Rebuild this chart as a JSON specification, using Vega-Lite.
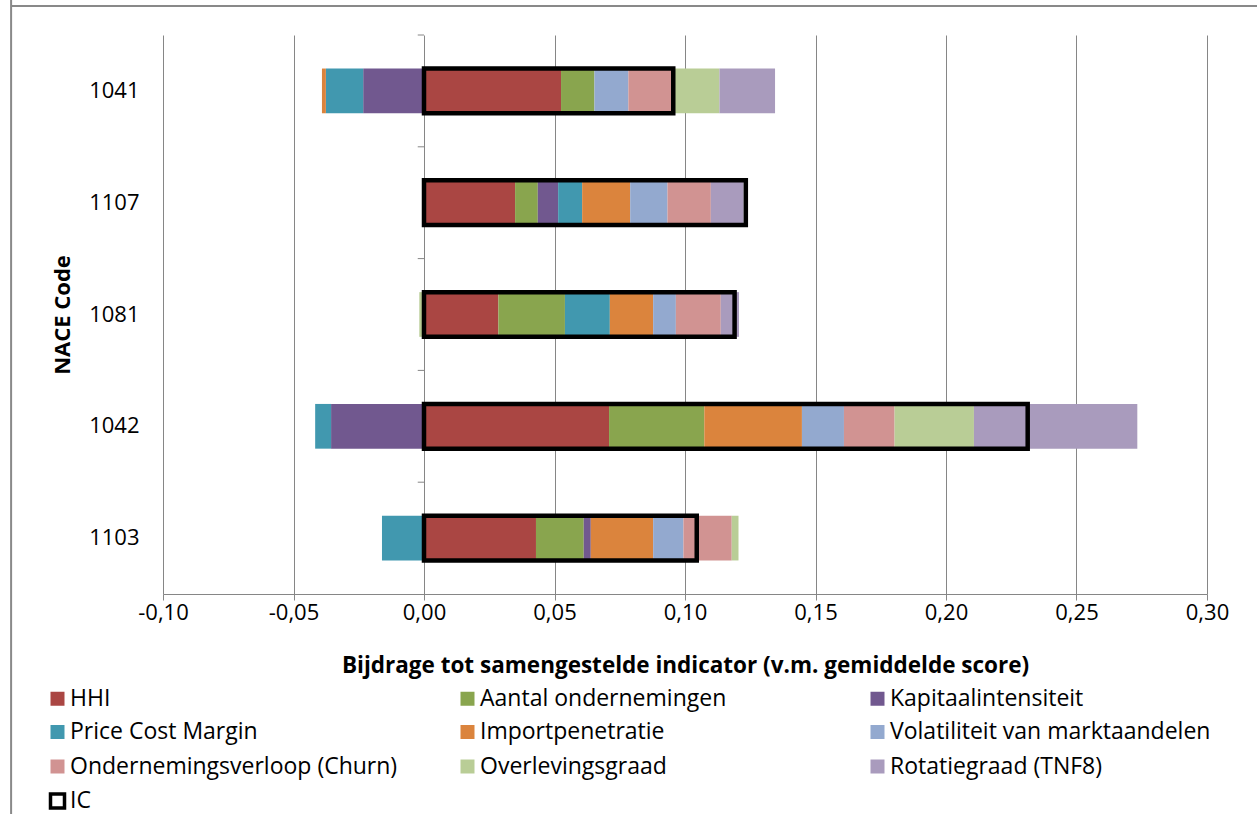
{
  "$schema": "https://vega.github.io/schema/vega-lite/v6.json",
  "width": 1044,
  "height": 559,
  "autosize": {"type": "none"},
  "padding": {"left": 163, "top": 35, "right": 50, "bottom": 220},
  "background": "white",
  "config": {
    "font": "Open Sans",
    "view": {"stroke": null},
    "locale": {"number": {"decimal": ",", "thousands": ".", "grouping": [3], "currency": ["", " €"], "minus": "-"}},
    "axis": {"labelColor": "black", "titleColor": "black", "gridColor": "#868686", "domainColor": "#868686", "tickColor": "#868686"}
  },
  "datasets": {
    "contrib": [
      {"code": "1041", "n": 1, "ind": "HHI", "value": 0.0525},
      {"code": "1041", "n": 2, "ind": "Aantal ondernemingen", "value": 0.0128},
      {"code": "1041", "n": 3, "ind": "Kapitaalintensiteit", "value": -0.0233},
      {"code": "1041", "n": 4, "ind": "Price Cost Margin", "value": -0.0143},
      {"code": "1041", "n": 5, "ind": "Importpenetratie", "value": -0.0015},
      {"code": "1041", "n": 6, "ind": "Volatiliteit van marktaandelen", "value": 0.013},
      {"code": "1041", "n": 7, "ind": "Ondernemingsverloop (Churn)", "value": 0.0164},
      {"code": "1041", "n": 8, "ind": "Overlevingsgraad", "value": 0.0185},
      {"code": "1041", "n": 9, "ind": "Rotatiegraad (TNF8)", "value": 0.0213},
      {"code": "1107", "n": 1, "ind": "HHI", "value": 0.0349},
      {"code": "1107", "n": 2, "ind": "Aantal ondernemingen", "value": 0.0087},
      {"code": "1107", "n": 3, "ind": "Kapitaalintensiteit", "value": 0.0078},
      {"code": "1107", "n": 4, "ind": "Price Cost Margin", "value": 0.0092},
      {"code": "1107", "n": 5, "ind": "Importpenetratie", "value": 0.0184},
      {"code": "1107", "n": 6, "ind": "Volatiliteit van marktaandelen", "value": 0.0143},
      {"code": "1107", "n": 7, "ind": "Ondernemingsverloop (Churn)", "value": 0.0166},
      {"code": "1107", "n": 9, "ind": "Rotatiegraad (TNF8)", "value": 0.0125},
      {"code": "1081", "n": 1, "ind": "HHI", "value": 0.0285},
      {"code": "1081", "n": 2, "ind": "Aantal ondernemingen", "value": 0.0255},
      {"code": "1081", "n": 4, "ind": "Price Cost Margin", "value": 0.0172},
      {"code": "1081", "n": 5, "ind": "Importpenetratie", "value": 0.0166},
      {"code": "1081", "n": 6, "ind": "Volatiliteit van marktaandelen", "value": 0.0087},
      {"code": "1081", "n": 7, "ind": "Ondernemingsverloop (Churn)", "value": 0.0172},
      {"code": "1081", "n": 8, "ind": "Overlevingsgraad", "value": -0.0018},
      {"code": "1081", "n": 9, "ind": "Rotatiegraad (TNF8)", "value": 0.007},
      {"code": "1042", "n": 1, "ind": "HHI", "value": 0.0709},
      {"code": "1042", "n": 2, "ind": "Aantal ondernemingen", "value": 0.0365},
      {"code": "1042", "n": 3, "ind": "Kapitaalintensiteit", "value": -0.0356},
      {"code": "1042", "n": 4, "ind": "Price Cost Margin", "value": -0.0061},
      {"code": "1042", "n": 5, "ind": "Importpenetratie", "value": 0.0374},
      {"code": "1042", "n": 6, "ind": "Volatiliteit van marktaandelen", "value": 0.0161},
      {"code": "1042", "n": 7, "ind": "Ondernemingsverloop (Churn)", "value": 0.0194},
      {"code": "1042", "n": 8, "ind": "Overlevingsgraad", "value": 0.0304},
      {"code": "1042", "n": 9, "ind": "Rotatiegraad (TNF8)", "value": 0.0626},
      {"code": "1103", "n": 1, "ind": "HHI", "value": 0.0429},
      {"code": "1103", "n": 2, "ind": "Aantal ondernemingen", "value": 0.0183},
      {"code": "1103", "n": 3, "ind": "Kapitaalintensiteit", "value": 0.0027},
      {"code": "1103", "n": 4, "ind": "Price Cost Margin", "value": -0.0161},
      {"code": "1103", "n": 5, "ind": "Importpenetratie", "value": 0.0239},
      {"code": "1103", "n": 6, "ind": "Volatiliteit van marktaandelen", "value": 0.0116},
      {"code": "1103", "n": 7, "ind": "Ondernemingsverloop (Churn)", "value": 0.0185},
      {"code": "1103", "n": 8, "ind": "Overlevingsgraad", "value": 0.0026}
    ],
    "ic": [
      {"code": "1041", "IC": 0.0955},
      {"code": "1107", "IC": 0.1233},
      {"code": "1081", "IC": 0.119},
      {"code": "1042", "IC": 0.2313},
      {"code": "1103", "IC": 0.1045}
    ]
  },
  "layer": [
    {
      "data": {"name": "contrib"},
      "mark": {"type": "bar"},
      "encoding": {
        "y": {
          "field": "code", "type": "nominal",
          "sort": ["1041", "1107", "1081", "1042", "1103"],
          "scale": {"paddingInner": 0.6, "paddingOuter": 0.3},
          "axis": {"title": "NACE Code", "titleFontSize": 22, "titleFontWeight": "bold", "titlePadding": 14, "labelFontSize": 22, "labelPadding": 24, "domain": false, "ticks": false}
        },
        "x": {
          "field": "value", "type": "quantitative", "stack": "zero",
          "scale": {"domain": [-0.1, 0.3], "nice": false, "zero": false},
          "axis": {
            "title": "Bijdrage tot samengestelde indicator (v.m. gemiddelde score)",
            "titleFontSize": 22.5, "titleFontWeight": "bold", "titlePadding": 31,
            "labelFontSize": 22, "labelPadding": 2, "tickSize": 6,
            "values": [-0.1, -0.05, 0, 0.05, 0.1, 0.15, 0.2, 0.25, 0.3],
            "format": ".2f",
            "grid": true, "labelFlush": false
          }
        },
        "order": {"field": "n", "type": "quantitative", "sort": "ascending"},
        "color": {
          "field": "ind", "type": "nominal",
          "scale": {
            "domain": ["HHI", "Aantal ondernemingen", "Kapitaalintensiteit", "Price Cost Margin", "Importpenetratie", "Volatiliteit van marktaandelen", "Ondernemingsverloop (Churn)", "Overlevingsgraad", "Rotatiegraad (TNF8)", "IC"],
            "range": ["#AA4643", "#89A54E", "#71588F", "#4198AF", "#DB843D", "#93A9CF", "#D19392", "#B9CD96", "#A99BBD", "white"]
          },
          "legend": {
            "title": null, "orient": "none", "legendX": -117, "legendY": 651,
            "direction": "horizontal",
            "columns": 3, "gridAlign": "all", "columnPadding": 58, "rowPadding": 5.5,
            "symbolType": "square", "symbolSize": 196, "labelFontSize": 23, "labelColor": "black",
            "labelOffset": 1, "labelLimit": 500, "padding": 0,
            "encode": {"symbols": {"update": {"stroke": {"signal": "datum.value === 'IC' ? 'black' : 'transparent'"}, "strokeWidth": {"signal": "datum.value === 'IC' ? 3.5 : 0"}}}}
          }
        }
      }
    },
    {
      "data": {"name": "ic"},
      "mark": {"type": "bar", "fill": "transparent", "stroke": "black", "strokeWidth": 4.5},
      "encoding": {
        "y": {"field": "code", "type": "nominal", "sort": ["1041", "1107", "1081", "1042", "1103"]},
        "x": {"field": "IC", "type": "quantitative", "stack": null}
      }
    },
    {
      "data": {"name": "ic"},
      "mark": {"type": "rule", "color": "#868686", "strokeWidth": 1},
      "encoding": {
        "y": {"field": "code", "type": "nominal", "bandPosition": -0.75, "sort": ["1041", "1107", "1081", "1042", "1103"]},
        "x": {"datum": -0.0024, "type": "quantitative"},
        "x2": {"datum": 0}
      }
    },
    {
      "data": {"values": [{}]},
      "mark": {"type": "rule", "color": "#898989", "strokeWidth": 2, "clip": false},
      "encoding": {
        "y": {"datum": "1041", "type": "nominal", "bandPosition": -1.3985, "sort": ["1041", "1107", "1081", "1042", "1103"]},
        "x": {"datum": -0.1582, "type": "quantitative"},
        "x2": {"datum": 0.4}
      }
    },
    {
      "data": {"values": [{}]},
      "mark": {"type": "tick", "orient": "vertical", "size": 1000, "thickness": 2, "color": "#898989", "opacity": 1, "clip": false},
      "encoding": {
        "y": {"datum": "1081", "type": "nominal", "bandPosition": 4.782, "sort": ["1041", "1107", "1081", "1042", "1103"]},
        "x": {"datum": -0.1582, "type": "quantitative"}
      }
    }
  ]
}
